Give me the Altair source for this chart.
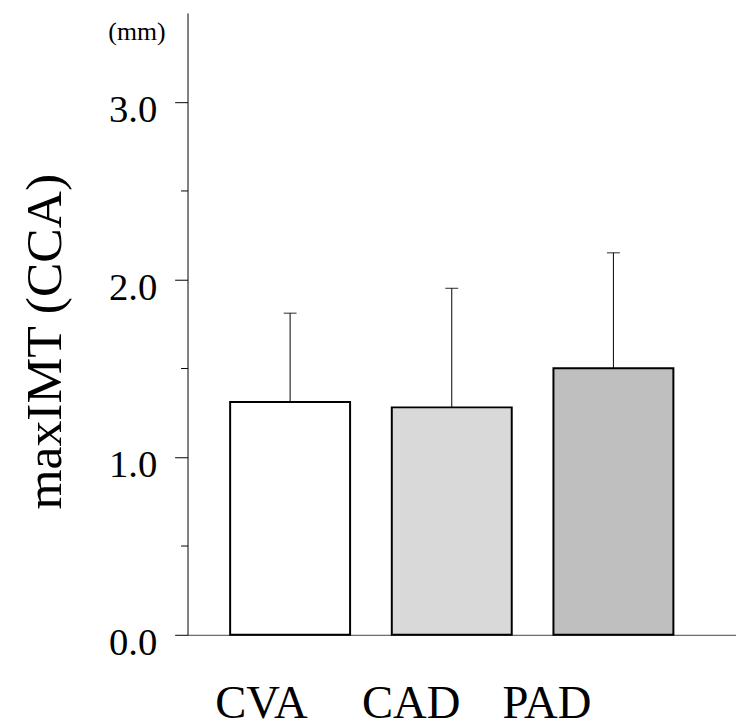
import altair as alt
import pandas as pd

groups = ["CVA", "CAD", "PAD"]
means = [1.31, 1.28, 1.50]
uppers = [1.81, 1.95, 2.15]
fills = ["#ffffff", "#d9d9d9", "#bfbfbf"]
label_shift = [-29, -41, -67]
y_ticks = [0.0, 0.5, 1.0, 1.5, 2.0, 2.5, 3.0]
unit_label = "(mm)"
y_title = "maxIMT (CCA)"

df = pd.DataFrame({"group": groups, "mean": means, "upper": uppers})
unit_df = pd.DataFrame({"t": [unit_label]})

FONT = "Liberation Serif"

x_scale = alt.Scale(domain=groups, paddingInner=0.258, paddingOuter=0.3255, align=0.405)
y_scale = alt.Scale(domain=[0, 3.5], nice=False)

label_cond = [
    {"test": f"datum.value == '{g}'", "value": s} for g, s in zip(groups, label_shift)
]

x_axis = alt.Axis(
    title=None,
    labelAngle=0,
    labelFontSize=47,
    labelBaseline="alphabetic",
    labelPadding=83,
    ticks=False,
    tickSize=0,
    domainColor="#444444",
    labelOffset={"condition": label_cond, "value": 0},
)

y_axis = alt.Axis(
    title=y_title,
    values=y_ticks,
    labelExpr="datum.value % 1 == 0 ? format(datum.value, '.1f') : ''",
    labelFontSize=39,
    labelBaseline="alphabetic",
    labelOffset=20,
    labelPadding=18,
    labelOverlap=False,
    tickSize={"condition": {"test": "datum.value % 1 != 0", "value": 7}, "value": 13},
    titleFontSize=52,
    titleFontWeight="normal",
    titleAngle=-90,
    titleX=-128,
    titleY=331,
    titleAlign="center",
    titleBaseline="alphabetic",
)

base = alt.Chart(df)

bars = base.mark_bar(stroke="black", strokeWidth=2).encode(
    x=alt.X("group:N", scale=x_scale, axis=x_axis, sort=groups),
    y=alt.Y("mean:Q", scale=y_scale, axis=y_axis),
    fill=alt.Fill("group:N", scale=alt.Scale(domain=groups, range=fills), legend=None),
)

whisker = base.mark_rule(color="black", strokeWidth=1).encode(
    x=alt.X("group:N", scale=x_scale, sort=groups),
    y=alt.Y("mean:Q", scale=y_scale),
    y2="upper:Q",
)

caps = base.mark_tick(color="black", thickness=1.2, size=13, orient="horizontal").encode(
    x=alt.X("group:N", scale=x_scale, sort=groups),
    y=alt.Y("upper:Q", scale=y_scale),
)

unit = alt.Chart(unit_df).mark_text(
    font=FONT, fontSize=26, baseline="alphabetic", align="center", color="black"
).encode(text="t:N", x=alt.value(-51), y=alt.value(27))

chart = (
    alt.layer(bars, whisker, caps, unit)
    .properties(
        width=553,
        height=627,
        autosize=alt.AutoSizeParams(type="none"),
        padding={"left": 181, "top": 2, "right": 0, "bottom": 90},
    )
    .configure_view(stroke=None)
    .configure_axis(
        labelFont=FONT,
        titleFont=FONT,
        labelColor="black",
        titleColor="black",
        domainColor="black",
        tickColor="black",
        domainWidth=1,
        tickWidth=1,
        grid=False,
    )
)

chart.save("out.html", embed_options={"renderer": "svg", "actions": False})
